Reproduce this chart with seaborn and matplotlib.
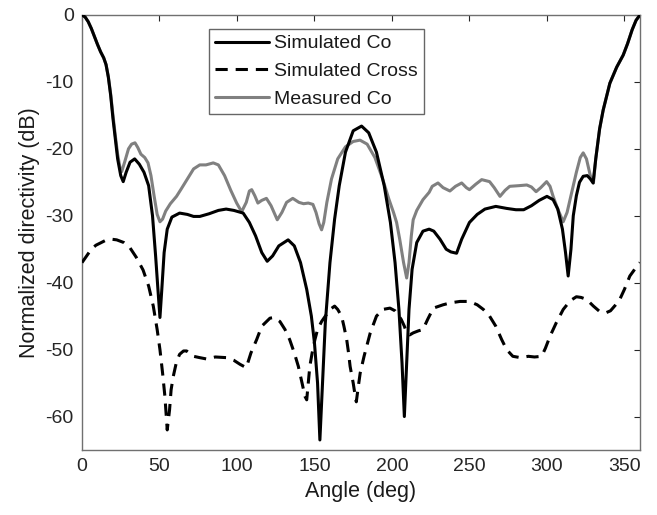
import numpy as np
import pandas as pd
import matplotlib
matplotlib.use("Agg")
import matplotlib.pyplot as plt
import seaborn as sns

# ---- data ----
sim_co_angle = [0, 2, 4, 6, 8, 10, 12, 14, 15.5, 17, 18.5, 20, 21.5, 23, 25, 26.6, 28.5,
                31, 34, 37, 40, 43, 45.5, 47.5, 49, 50.3, 51.5, 53, 55, 58, 63, 68, 72,
                76, 82, 88, 93, 98, 104, 108, 112, 116, 119.5, 123, 127, 133, 137, 141,
                145, 148, 150, 152, 153.5, 155, 157, 160, 163, 166, 170, 175, 180.4, 185,
                190, 195, 199, 202, 204.5, 206.5, 208, 209.5, 211, 213, 216, 220, 224,
                227, 231, 235, 238, 241.7, 245, 250, 255, 260, 267, 274, 280, 285, 290,
                295, 300, 304, 307, 310, 312, 313.7, 315.5, 317, 319, 321, 323.4, 326,
                328, 329.8, 331.5, 334, 336.3, 340.6, 345, 349.2, 352, 355, 357.5, 360]
sim_co_db = [0, -0.3, -1, -2, -3.2, -4.4, -5.5, -6.4, -7.4, -9.3, -12, -15.5, -18.5, -21.5,
             -24, -24.9, -23.5, -22, -21.5, -22.3, -23.5, -25.5, -30, -36, -41, -45.2, -41,
             -35.5, -32, -30.2, -29.6, -29.8, -30.1, -30.1, -29.7, -29.2, -29, -29.2, -29.6,
             -31, -33, -35.5, -36.8, -36, -34.5, -33.6, -34.5, -37, -41, -45, -49, -55,
             -63.5, -56, -46, -37, -30.5, -25.5, -20.5, -17.3, -16.6, -17.6, -20.5, -25.5,
             -31, -37, -44, -52, -60, -52, -44, -38, -34, -32.3, -32, -32.3, -33.5, -35,
             -35.4, -35.6, -33.5, -31, -29.8, -29, -28.6, -28.9, -29.1, -29.1, -28.5,
             -27.7, -27.1, -27.6, -29, -32, -35.5, -39, -35, -30, -27, -25, -24.1, -24,
             -24.5, -25.1, -21.5, -17, -14.2, -10.2, -7.8, -6, -4.3, -2.2, -0.8, 0]

sim_cross_angle = [0, 3, 6, 9, 11.6, 15, 19, 22.4, 27, 31, 35, 39.4, 43, 46, 48.5, 50.3,
                   52, 53.5, 55, 56.5, 57.5, 58.9, 61, 63, 65.5, 67.5, 72, 76, 80.4, 86,
                   93.3, 98, 102, 106, 109, 112.7, 116, 121.3, 124, 127.7, 131, 134, 137,
                   139.6, 142, 143.9, 145, 146, 147, 148.5, 150.3, 152, 154.6, 157, 160,
                   163, 165, 167.5, 169, 170.8, 172, 173, 175, 176, 177, 178.3, 179.5,
                   180.5, 182, 183.7, 186, 190, 194, 198.7, 202, 204, 206, 208, 209.5,
                   211.5, 213.7, 217, 220, 223, 226.7, 233, 238, 243.9, 250, 255, 259,
                   263, 267, 270.8, 274, 278, 283, 288, 292, 296.6, 299, 302, 306, 310.5,
                   315, 319, 322, 325.6, 330, 334, 338, 341, 344, 347, 350, 353.5, 356,
                   358, 360]
sim_cross_db = [-37, -36, -35, -34.4, -34.1, -33.7, -33.5, -33.6, -34, -34.8, -36.2, -38.1,
                -40.5, -43.5, -47, -50, -53.5, -57, -62, -59, -56, -54, -51.8, -50.7,
                -50.2, -50.2, -51, -51.2, -51.4, -51.1, -51.2, -51.6, -52.2, -52.7, -50.5,
                -48.5, -46.5, -45.3, -45.2, -45.8, -47, -48.5, -50.5, -52.5, -55, -57,
                -57.5, -55, -52.5, -50.5, -48.5, -47, -45.8, -45, -44, -43.5, -44, -45,
                -46.5, -48.5, -50.5, -52.5, -55, -56.5, -57.8, -55.5, -53.5, -52.5, -51,
                -49.5, -47.5, -45, -44, -43.8, -44.2, -44.8, -45.5, -46.5, -47.5, -47.8,
                -47.5, -47.2, -47, -45.5, -43.8, -43.3, -43, -42.8, -42.8, -43.3, -44,
                -45, -46.5, -48.5, -50, -51, -51.2, -51, -51.1, -51, -49.8, -48, -46, -44,
                -42.7, -42.1, -42.2, -42.5, -43.5, -44.3, -44.5, -44.2, -43.4, -42.5, -41,
                -39, -38.2, -37.5, -37]

meas_co_angle = [0, 2, 4, 6, 8, 10, 12, 14, 15.5, 17, 18.5, 20, 21.5, 23, 24.5, 25.6, 27.5,
                 30, 32, 34.2, 36, 38, 40.5, 42.6, 44.5, 46.5, 48.5, 50.3, 52, 54, 57, 61,
                 64, 68, 72, 76, 80, 84.7, 88, 92, 96, 99.8, 103, 106, 108, 109.5, 111.5,
                 113.5, 116, 119, 122, 126, 129, 132, 136, 140, 143, 146, 149, 151, 153,
                 154.6, 156, 158, 161, 165, 170, 175, 179.4, 184, 189, 194, 198, 201, 203,
                 205, 207.5, 209.5, 211, 212.5, 213.7, 216, 220, 224, 226, 229.7, 233,
                 237.4, 241, 245, 248, 250, 254, 257.9, 263, 266, 269.7, 273, 276, 282,
                 287, 290, 293, 296, 299.8, 302, 304, 307, 310.5, 313, 316, 319, 321.5,
                 323.4, 325.5, 328, 330, 331.5, 334, 336.3, 340.6, 345, 349.2, 352, 355,
                 357.5, 360]
meas_co_db = [0, -0.3, -1, -2, -3.2, -4.4, -5.5, -6.4, -7.4, -9.2, -11.8, -15, -18, -20.8,
              -22.8, -23.4, -22, -20, -19.3, -19.1, -19.8, -20.8, -21.3, -22.1, -24, -27,
              -29.8, -30.9, -30.5, -29.3, -28.2, -27.1, -26, -24.5, -23, -22.4, -22.4,
              -22.1, -22.4, -24, -26.2, -28.1, -29.4, -28, -26.3, -26.1, -27, -28.1, -27.7,
              -27.4, -28.5, -30.6, -29.5, -28, -27.4, -28, -28.2, -28.1, -28.3, -29.5,
              -31.2, -32.1, -31, -28, -24.5, -21.5, -19.7, -18.9, -18.7, -19.3, -21.3,
              -24.5, -27.5, -29.5, -31, -33.5, -37, -39.3, -37, -33, -30.6, -29.2, -27.6,
              -26.5, -25.6, -25.1, -25.8, -26.3, -25.6, -25.1, -25.8, -26.1, -25.3, -24.6,
              -24.9, -25.8, -27.1, -26.2, -25.6, -25.5, -25.4, -25.7, -26.4, -25.8, -24.9,
              -25.6, -27.1, -29, -30.9, -29.5, -26.5, -23.5, -21.3, -20.6, -21.5, -24,
              -25.1, -21.5, -17, -14.2, -10.2, -7.8, -6, -4.3, -2.2, -0.8, 0]

labels = ["Simulated Co", "Simulated Cross", "Measured Co"]
x_ticks = [0, 50, 100, 150, 200, 250, 300, 350]
y_ticks = [0, -10, -20, -30, -40, -50, -60]

# ---- plotting ----
sns.set_style("white")
plt.rcParams["font.family"] = ["Liberation Sans", "DejaVu Sans"]
plt.rcParams["axes.unicode_minus"] = False

fig = plt.figure(figsize=(6.57, 5.15), dpi=100)
ax = fig.add_axes([0.1248, 0.1262, 0.974 - 0.1248, 0.9709 - 0.1262])

df_mc = pd.DataFrame({"angle": meas_co_angle, "db": meas_co_db})
df_sc = pd.DataFrame({"angle": sim_co_angle, "db": sim_co_db})
df_sx = pd.DataFrame({"angle": sim_cross_angle, "db": sim_cross_db})

sns.lineplot(data=df_mc, x="angle", y="db", ax=ax, color="#808080", linewidth=2.2,
             estimator=None, sort=False, zorder=2)
l_mc = ax.lines[-1]
sns.lineplot(data=df_sx, x="angle", y="db", ax=ax, color="black", linewidth=2.2,
             estimator=None, sort=False, zorder=3)
l_sx = ax.lines[-1]
l_sx.set_dashes((4, 2.6))
sns.lineplot(data=df_sc, x="angle", y="db", ax=ax, color="black", linewidth=2.2,
             estimator=None, sort=False, zorder=4)
l_sc = ax.lines[-1]

ax.set_xlim(0, 360)
ax.set_ylim(-65, 0)
ax.set_xticks(x_ticks)
ax.set_yticks(y_ticks)
ax.tick_params(direction="in", length=4, width=0.8, top=True, right=True,
               labelsize=14, colors="#262626", pad=6)
for sp in ax.spines.values():
    sp.set_color("#707070")
    sp.set_linewidth(1.0)
ax.set_xlabel("Angle (deg)", fontsize=15.5, color="#1a1a1a", labelpad=4)
ax.set_ylabel("Normalized directivity (dB)", fontsize=15.5, color="#1a1a1a", labelpad=4)

leg = ax.legend([l_sc, l_sx, l_mc], labels, loc="upper left",
                bbox_to_anchor=(0.2276, 0.968), borderaxespad=0, fontsize=14,
                handlelength=2.8, handletextpad=0.25, labelspacing=0.52,
                borderpad=0.3, frameon=True, fancybox=False)
leg.get_frame().set_edgecolor("#404040")
leg.get_frame().set_linewidth(1.0)
for t in leg.get_texts():
    t.set_color("#1a1a1a")

fig.savefig("out.png", dpi=100)
